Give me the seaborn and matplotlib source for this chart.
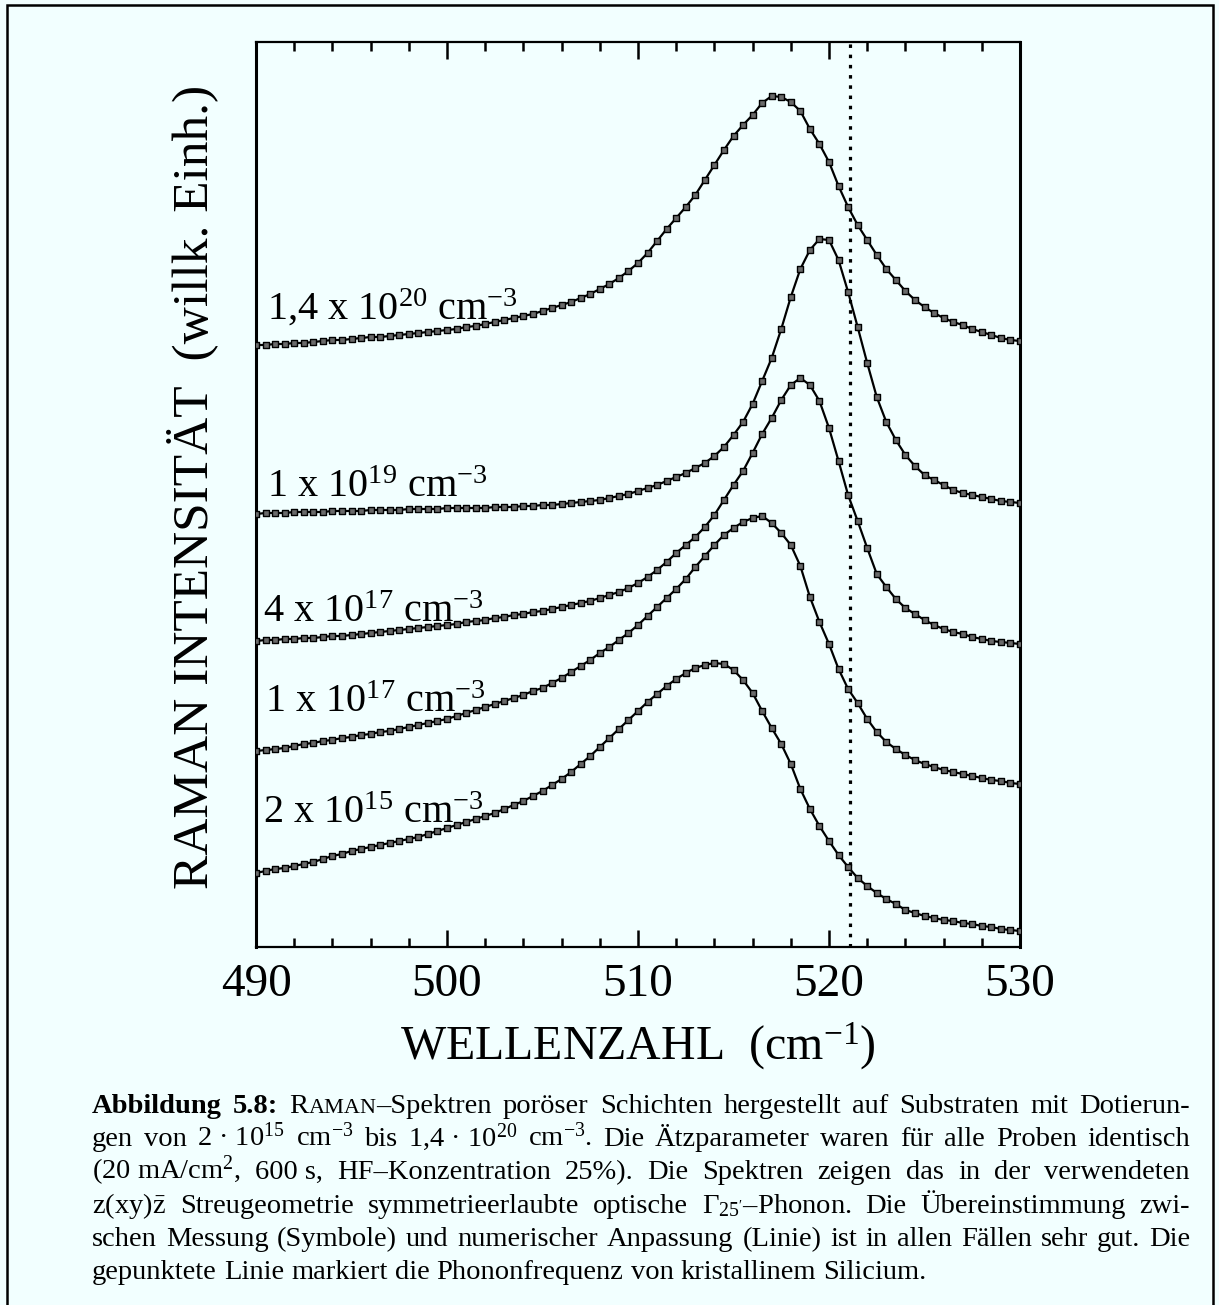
import numpy as np
import pandas as pd
import matplotlib
matplotlib.use("Agg")
import matplotlib.pyplot as plt
from matplotlib.ticker import MultipleLocator
from matplotlib.patches import Rectangle
import seaborn as sns

# ---------------- data (offsets included) ----------------
wavenumber = np.arange(490.0, 530.01, 0.5)

int_2e15 = [74, 76, 78, 79, 81, 83, 85, 88, 91, 93,
            96, 98, 100, 102, 104, 106, 108, 110, 113, 116,
            119, 122, 125, 128, 131, 134, 138, 142, 146, 151,
            156, 162, 168, 175, 183, 191, 200, 209, 218, 227,
            236, 245, 253, 261, 268, 274, 279, 282, 284, 283,
            277, 267, 254, 236, 219, 203, 183, 158, 138, 121,
            106, 92, 80, 69, 61, 54, 48, 43, 37, 34,
            31, 29, 27, 26, 24, 23, 21, 20, 18, 17,
            16]

int_1e17 = [196, 197, 198, 199, 201, 203, 204, 206, 207, 209,
            210, 212, 213, 215, 216, 218, 220, 222, 224, 226,
            228, 231, 234, 237, 240, 243, 246, 249, 252, 256,
            259, 264, 269, 275, 281, 287, 294, 300, 307, 314,
            322, 331, 340, 349, 358, 368, 380, 391, 402, 412,
            419, 425, 429, 431, 424, 414, 402, 381, 350, 325,
            303, 278, 258, 244, 228, 215, 205, 198, 192, 187,
            183, 180, 177, 175, 173, 171, 169, 167, 166, 164,
            163]

int_4e17 = [306, 307, 307, 308, 308, 309, 309, 310, 311, 311,
            312, 313, 314, 315, 316, 317, 318, 319, 320, 321,
            322, 323, 325, 326, 327, 329, 330, 332, 333, 335,
            336, 338, 340, 342, 344, 346, 349, 352, 355, 359,
            364, 370, 377, 385, 394, 402, 410, 420, 432, 447,
            462, 476, 494, 513, 529, 547, 562, 569, 562, 546,
            519, 486, 452, 426, 399, 373, 360, 348, 339, 333,
            327, 322, 318, 315, 313, 310, 308, 306, 305, 304,
            303]

int_1e19 = [433, 434, 434, 434, 435, 435, 435, 435, 436, 436,
            436, 436, 437, 437, 437, 437, 438, 438, 438, 438,
            439, 439, 439, 439, 439, 440, 440, 440, 441, 441,
            442, 442, 443, 444, 445, 446, 447, 449, 451, 453,
            456, 459, 462, 466, 470, 474, 479, 484, 491, 500,
            512, 525, 543, 566, 589, 618, 650, 678, 697, 708,
            707, 687, 655, 620, 584, 550, 525, 507, 492, 481,
            472, 467, 462, 457, 454, 452, 450, 448, 446, 445,
            444]

int_1p4e20 = [602, 602, 603, 603, 604, 604, 605, 606, 607, 607,
              608, 609, 610, 610, 611, 612, 613, 614, 615, 616,
              617, 618, 620, 621, 623, 625, 627, 629, 631, 633,
              636, 639, 642, 645, 649, 653, 658, 663, 669, 676,
              684, 694, 706, 718, 729, 740, 752, 767, 782, 797,
              811, 822, 832, 844, 851, 850, 845, 836, 818, 803,
              785, 761, 740, 722, 707, 692, 678, 667, 656, 647,
              640, 634, 629, 625, 622, 618, 615, 612, 609, 607,
              606]

series_values = [int_2e15, int_1e17, int_4e17, int_1e19, int_1p4e20]
series_labels = ["2 x 10$^{15}$ cm$^{-3}$", "1 x 10$^{17}$ cm$^{-3}$",
                 "4 x 10$^{17}$ cm$^{-3}$", "1 x 10$^{19}$ cm$^{-3}$",
                 "1,4 x 10$^{20}$ cm$^{-3}$"]
label_anchor_x = [490.35, 490.45, 490.35, 490.6, 490.6]
label_anchor_y = [124, 235, 325, 450, 627]
si_phonon = 521.1
x_ticks = [490, 500, 510, 520, 530]

frames = []
for lab, vals in zip(series_labels, series_values):
    assert len(vals) == len(wavenumber)
    frames.append(pd.DataFrame({"wavenumber": wavenumber, "intensity": vals, "sample": lab}))
df = pd.concat(frames, ignore_index=True)

# ---------------- style ----------------
sns.set_theme(style="white")
plt.rcParams['font.family'] = ['Liberation Serif', 'DejaVu Serif']
plt.rcParams['mathtext.fontset'] = 'custom'
plt.rcParams['mathtext.rm'] = 'Liberation Serif'
plt.rcParams['mathtext.it'] = 'Liberation Serif:italic'
plt.rcParams['mathtext.bf'] = 'Liberation Serif:bold'
plt.rcParams['mathtext.default'] = 'regular'

W, H = 1219, 1305
BG = '#F2FFFF'
fig = plt.figure(figsize=(W / 100, H / 100), dpi=100, facecolor=BG)
ax = fig.add_axes([256 / W, 1 - 947 / H, (1020 - 256) / W, (947 - 42) / H])
ax.set_facecolor(BG)

for lab in series_labels:
    sub = df[df["sample"] == lab]
    sns.lineplot(data=sub, x="wavenumber", y="intensity", ax=ax, color="black",
                 linewidth=1.6, zorder=2, legend=False)
    sns.scatterplot(data=sub, x="wavenumber", y="intensity", ax=ax, marker="s", s=24,
                    color="#6a6a6a", edgecolor="black", linewidth=1.0, zorder=3, legend=False)

ax.axvline(si_phonon, color="black", linewidth=2.3, linestyle=(0, (1.1, 2.1)), zorder=1)

for lab, lx, ly in zip(series_labels, label_anchor_x, label_anchor_y):
    ax.text(lx, ly, lab, fontsize=29, ha="left", va="baseline", color="black")

ax.set_xlim(490, 530)
ax.set_ylim(0, 905)
ax.set_xticks(x_ticks)
ax.set_xticklabels([str(t) for t in x_ticks])
ax.xaxis.set_minor_locator(MultipleLocator(2))
ax.set_yticks([])
ax.tick_params(axis="x", which="both", direction="in", top=True, bottom=True,
               colors="black", width=1.8)
ax.tick_params(axis="x", which="major", length=12, labelsize=34, pad=12)
ax.tick_params(axis="x", which="minor", length=6.5)
ax.set_xlabel("")
ax.set_ylabel("")
for side, lw in [("left", 2.2), ("right", 2.2), ("top", 1.6), ("bottom", 1.6)]:
    ax.spines[side].set_visible(True)
    ax.spines[side].set_linewidth(lw)
    ax.spines[side].set_color("black")

# axis titles
fig.text(638 / W, 1 - 1060 / H, "WELLENZAHL  (cm$^{-1}$)", fontsize=34.5,
         ha="center", va="baseline", color="black")
fig.text(192 / W, 1 - 487 / H, "RAMAN INTENSITÄT  (willk. Einh.)", fontsize=37,
         rotation=90, ha="center", va="center", color="black")

# outer frame
fig.patches.append(Rectangle((7 / W, -10 / H), (1213 - 7) / W, (1305 + 10 - 5) / H,
                             transform=fig.transFigure, fill=False, lw=1.8,
                             edgecolor="black"))

# ---------------- justified caption ----------------
renderer = fig.canvas.get_renderer()
CAP = 20.5
cap_kw = dict(fontsize=CAP, color="black", va="baseline", ha="left")
BOLD = {"fontweight": "bold"}
SC = {"fontsize": CAP * 0.78}


def text_w(s, **kw):
    t = fig.text(0, 0, s, **{**cap_kw, **kw})
    w = t.get_window_extent(renderer=renderer).width
    t.remove()
    return w


space_w = text_w("a a") - text_w("aa")
cap_left, cap_right = 92, 1190

caption = [
    [[("Abbildung", BOLD)], [("5.8:", BOLD)], [("R", {}), ("AMAN", SC), ("–Spektren", {})],
     "poröser", "Schichten", "hergestellt", "auf", "Substraten", "mit", "Dotierun-"],
    ["gen", "von", "2 · 10$^{15}$", "cm$^{-3}$", "bis", "1,4 · 10$^{20}$", "cm$^{-3}$.", "Die",
     "Ätzparameter", "waren", "für", "alle", "Proben", "identisch"],
    ["(20 mA/cm$^{2}$,", "600 s,", "HF–Konzentration", "25%).", "Die", "Spektren", "zeigen",
     "das", "in", "der", "verwendeten"],
    ["z(xy)$\\bar{z}$", "Streugeometrie", "symmetrieerlaubte", "optische",
     "$\\Gamma_{25'}$–Phonon.", "Die", "Übereinstimmung", "zwi-"],
    ["schen", "Messung", "(Symbole)", "und", "numerischer", "Anpassung", "(Linie)", "ist", "in",
     "allen", "Fällen", "sehr", "gut.", "Die"],
    ["gepunktete", "Linie", "markiert", "die", "Phononfrequenz", "von", "kristallinem", "Silicium."],
]
baselines = [1113, 1146, 1179, 1213, 1246, 1279]


def place_line(words, y_px, justify=True):
    items = []
    for w in words:
        segs = w if isinstance(w, list) else [(w, {})]
        items.append((segs, [text_w(s, **k) for s, k in segs]))
    total = sum(sum(sw) for _, sw in items)
    gap = (cap_right - cap_left - total) / (len(items) - 1) if justify else space_w
    gap = max(gap, space_w * 0.6)
    x = cap_left
    for segs, sw in items:
        for (s, k), w in zip(segs, sw):
            fig.text(x / W, 1 - y_px / H, s, **{**cap_kw, **k})
            x += w
        x += gap


for i, (words, yb) in enumerate(zip(caption, baselines)):
    place_line(words, yb, justify=(i < len(caption) - 1))

fig.savefig("out.png", dpi=100, facecolor=BG)
